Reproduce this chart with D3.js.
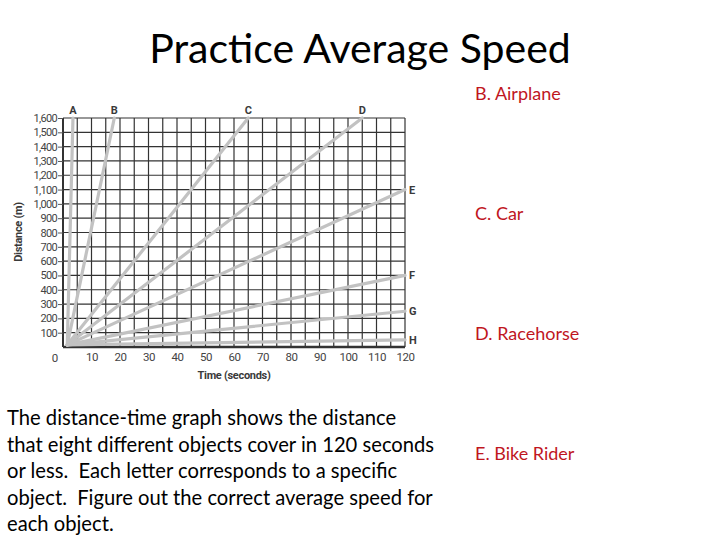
<!DOCTYPE html>
<html>
<head>
<meta charset="utf-8">
<script src="https://cdn.jsdelivr.net/npm/d3@7"></script>
<style>
  body { margin: 0; background: #fff; }
  svg { display: block; }
  text { white-space: pre; }
</style>
</head>
<body>
<div id="container"><svg></svg></div>
<script>
let width = 720
let height = 540
let chartFont = "Roboto"
let textFont = "Lato"

// lines on the graph: letter, start point, end point
let letters = ['A', 'B', 'C', 'D', 'E', 'F', 'G', 'H']
let start_time = [1.5, 1.5, 1.5, 1.5, 1.5, 1.5, 1.5, 1.5]
let start_dist = [15, 15, 15, 15, 15, 15, 15, 15]
let end_time = [3.5, 18, 65, 105, 120, 120, 120, 120]
let end_dist = [1600, 1600, 1600, 1600, 1100, 500, 250, 50]

let x_ticks = [10, 20, 30, 40, 50, 60, 70, 80, 90, 100, 110, 120]
let y_ticks = [100, 200, 300, 400, 500, 600, 700, 800, 900, 1000, 1100, 1200, 1300, 1400, 1500, 1600]

let answers = ['B. Airplane', 'C. Car', 'D. Racehorse', 'E. Bike Rider']
let body_lines = [
    'The distance-time graph shows the distance',
    'that eight different objects cover in 120 seconds',
    'or less.  Each letter corresponds to a specific',
    'object.  Figure out the correct average speed for',
    'each object.'
]

let svg = d3.select('#container').select('svg')
    .attr('width', width)
    .attr('height', height)

// title
svg.append('text')
    .attr('x', 360)
    .attr('y', 63)
    .attr('text-anchor', 'middle')
    .attr('font-family', textFont)
    .attr('font-size', 41)
    .attr('fill', '#000')
    .text('Practice Average Speed')

let x = d3.scaleLinear().domain([0, 120]).range([63, 405])
let y = d3.scaleLinear().domain([0, 1600]).range([347, 118])

let g = svg.append('g')

// grid, every 5 s and every 100 m
g.append('g')
    .selectAll('line')
    .data(d3.range(0, 121, 5))
    .enter().append('line')
    .attr('x1', d => x(d)).attr('x2', d => x(d))
    .attr('y1', y(0)).attr('y2', y(1600))
    .attr('stroke', '#333')
    .attr('stroke-width', 1.2)

g.append('g')
    .selectAll('line')
    .data(d3.range(0, 1601, 100))
    .enter().append('line')
    .attr('x1', x(0)).attr('x2', x(120))
    .attr('y1', d => y(d)).attr('y2', d => y(d))
    .attr('stroke', '#333')
    .attr('stroke-width', 1.2)

// heavier axes
g.append('line')
    .attr('x1', x(0)).attr('x2', x(0))
    .attr('y1', y(0)).attr('y2', y(1600))
    .attr('stroke', '#333').attr('stroke-width', 2)
g.append('line')
    .attr('x1', x(0)).attr('x2', x(120))
    .attr('y1', y(0)).attr('y2', y(0))
    .attr('stroke', '#333').attr('stroke-width', 2.5)

// object lines
let idx = d3.range(letters.length)
g.append('g')
    .selectAll('line')
    .data(idx)
    .enter().append('line')
    .attr('x1', i => x(start_time[i]))
    .attr('y1', i => y(start_dist[i]))
    .attr('x2', i => x(end_time[i]))
    .attr('y2', i => y(end_dist[i]))
    .attr('stroke', '#c2c2c2')
    .attr('stroke-width', 3.2)
    .attr('stroke-linecap', 'round')

// letters: on top for the steep ones, at the right for the rest
g.append('g')
    .selectAll('text')
    .data(idx)
    .enter().append('text')
    .attr('x', i => end_dist[i] >= 1600 ? x(end_time[i]) : x(end_time[i]) + 4)
    .attr('y', i => end_dist[i] >= 1600 ? y(1600) - 4 : y(end_dist[i]))
    .attr('dy', i => end_dist[i] >= 1600 ? 0 : '0.36em')
    .attr('text-anchor', i => end_dist[i] >= 1600 ? 'middle' : 'start')
    .attr('font-family', chartFont)
    .attr('font-weight', 'bold')
    .attr('font-size', 11)
    .attr('fill', '#3a3a3a')
    .text(i => letters[i])

// y axis
let axis_y = d3.axisLeft(y)
    .tickValues(y_ticks)
    .tickSize(5)
    .tickPadding(1)
    .tickFormat(d3.format(','))
let gy = svg.append('g')
    .attr('transform', `translate(${x(0)}, 0)`)
    .call(axis_y)
    .attr('font-family', chartFont)
    .attr('font-size', 11)
gy.select('.domain').remove()
gy.selectAll('line').attr('stroke', '#555')
gy.selectAll('text').attr('fill', '#444').attr('letter-spacing', -0.7)

// x axis
let axis_x = d3.axisBottom(x)
    .tickValues(x_ticks)
    .tickSize(0)
    .tickPadding(6)
let gx = svg.append('g')
    .attr('transform', `translate(0, ${y(0)})`)
    .call(axis_x)
    .attr('font-family', chartFont)
    .attr('font-size', 11.5)
gx.select('.domain').remove()
gx.selectAll('text').attr('fill', '#444').attr('letter-spacing', -0.4)

svg.append('text')
    .attr('x', 55)
    .attr('y', 362)
    .attr('text-anchor', 'middle')
    .attr('font-family', chartFont)
    .attr('font-size', 11.5)
    .attr('fill', '#444')
    .text('0')

// axis labels
svg.append('text')
    .attr('x', (x(0) + x(120)) / 2)
    .attr('y', 379)
    .attr('text-anchor', 'middle')
    .attr('font-family', chartFont)
    .attr('font-weight', 'bold')
    .attr('font-size', 11)
    .attr('fill', '#3a3a3a')
    .attr('letter-spacing', -0.3)
    .text('Time (seconds)')

svg.append('g')
    .attr('transform', `translate(22, 232) rotate(-90)`)
    .append('text')
    .attr('text-anchor', 'middle')
    .attr('font-family', chartFont)
    .attr('font-weight', 'bold')
    .attr('font-size', 11)
    .attr('fill', '#3a3a3a')
    .attr('letter-spacing', -0.3)
    .text('Distance (m)')

// answer labels on the right
svg.append('g')
    .selectAll('text')
    .data(answers)
    .enter().append('text')
    .attr('x', 475)
    .attr('y', (d, i) => 100 + i * 120)
    .attr('font-family', textFont)
    .attr('font-size', 18)
    .attr('fill', '#c0161e')
    .text(d => d)

// body text
svg.append('g')
    .selectAll('text')
    .data(body_lines)
    .enter().append('text')
    .attr('x', 7)
    .attr('y', (d, i) => 425 + i * 26.5)
    .attr('font-family', textFont)
    .attr('font-size', 20.2)
    .attr('fill', '#000')
    .text(d => d)
</script>
</body>
</html>
